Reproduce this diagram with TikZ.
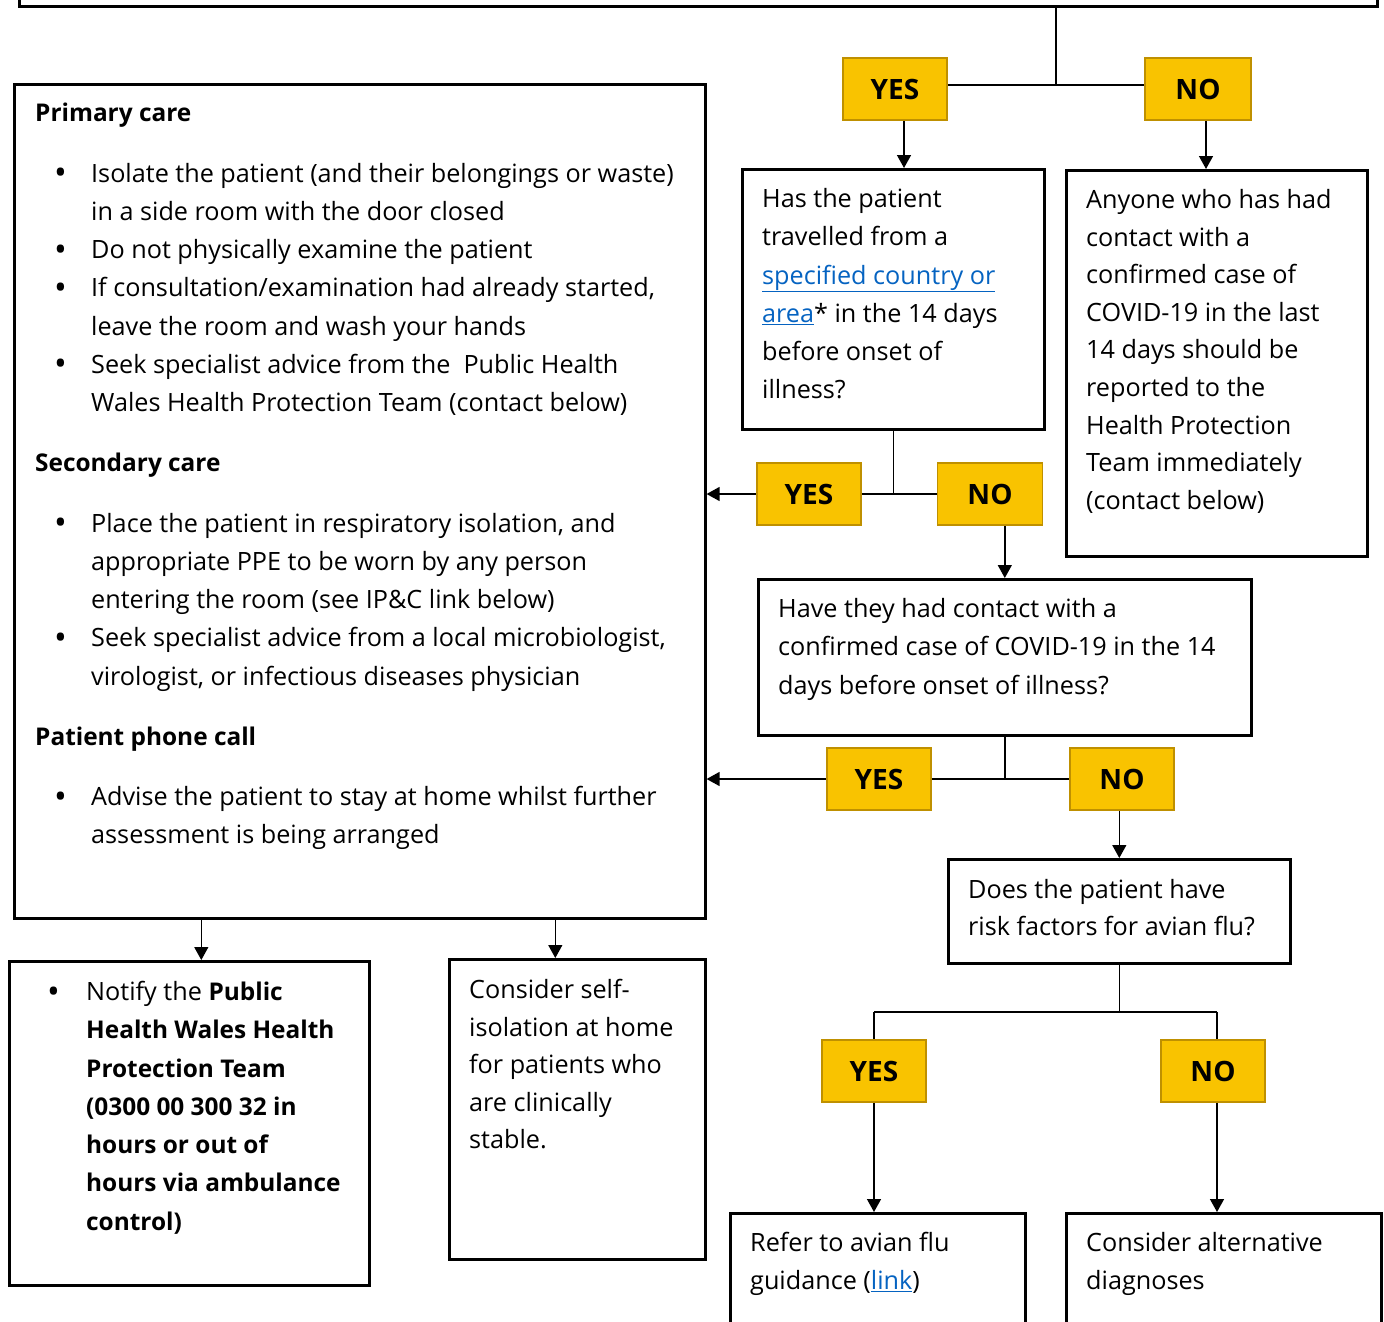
\documentclass[tikz,border=0pt]{standalone}
\usepackage{fontspec}
\setmainfont{Open Sans}
\usetikzlibrary{positioning,arrows.meta}
\definecolor{yesno}{HTML}{F9C300}
\definecolor{yesnoedge}{HTML}{BF9000}
\definecolor{linkblue}{HTML}{0563C1}
\newcommand{\lnk}[1]{\textcolor{linkblue}{\underline{#1}}}
\newcommand{\dotmark}{\raisebox{-2.5pt}{\fontsize{34}{34}\selectfont\textbullet}}
\newcommand{\bul}{\makebox[56pt][l]{\hspace{19pt}\dotmark}}
\newcommand{\ind}{\hspace*{56pt}}
\newcommand{\hd}[1]{{\fontsize{24.4}{38.25}\selectfont\bfseries #1}}

\begin{document}
\begin{tikzpicture}[x=1pt,y=-1pt,
    box/.style={draw,line width=2.6pt,inner sep=0,anchor=north west},
    yn/.style={draw=yesnoedge,fill=yesno,line width=1.6pt,minimum width=104pt,minimum height=62pt,inner sep=0,font=\fontsize{28}{30}\selectfont\bfseries},
    txt/.style={anchor=north west,yshift=18.8pt,align=left,inner sep=0,execute at begin node=\strut,font=\fontsize{25.2}{38.25}\selectfont},
    line/.style={line width=1.4pt},
    arr/.style={line,-{Triangle[length=13pt,width=14pt]}}]
  \clip (0,0) rectangle (1384,1322);
  \useasboundingbox (0,0) rectangle (1384,1322);

  % boxes
  \node[box,anchor=south west,minimum width=1358pt,minimum height=100pt] (top) at (18,8) {};
  \node[box,minimum width=691pt,minimum height=834pt] (main) at (13,83) {};
  \node[box,minimum width=302pt,minimum height=260pt] (q1) at (741,168) {};
  \node[box,minimum width=301pt,minimum height=386pt] (r1) at (1065,169) {};
  \node[box,minimum width=493pt,minimum height=156pt] (q2) at (757,578) {};
  \node[box,minimum width=342pt,minimum height=104pt] (q3) at (947,858) {};
  \node[box,minimum width=295pt,minimum height=160pt] (a1) at (729,1212) {};
  \node[box,minimum width=315pt,minimum height=160pt] (a2) at (1065,1212) {};
  \node[box,minimum width=360pt,minimum height=324pt] (notify) at (8,960) {};
  \node[box,minimum width=256pt,minimum height=300pt] (self) at (448,958) {};

  % yes / no
  \node[yn] (yes1) at (895,89) {YES};
  \node[yn,minimum width=106pt] (no1) at (1198,89) {NO};
  \node[yn] (yes2) at (809,494) {YES};
  \node[yn,minimum width=105pt] (no2) at (990,494) {NO};
  \node[yn] (yes3) at (879,779) {YES};
  \node[yn] (no3) at (1122,779) {NO};
  \node[yn] (yes4) at (874,1071) {YES};
  \node[yn] (no4) at (1213,1071) {NO};

  % texts
  \node[txt] (maintext) at (35,122) {\hd{Primary care}\\[22pt]
    \bul Isolate the patient (and their belongings or waste)\\
    \ind in a side room with the door closed\\
    \bul Do not physically examine the patient\\
    \bul If consultation/examination had already started,\\
    \ind leave the room and wash your hands\\
    \bul Seek specialist advice from the\ \ Public Health\\
    \ind Wales Health Protection Team (contact below)\\[22pt]
    \hd{Secondary care}\\[22pt]
    \bul Place the patient in respiratory isolation, and\\
    \ind appropriate PPE to be worn by any person\\
    \ind entering the room (see IP\&C link below)\\
    \bul Seek specialist advice from a local microbiologist,\\
    \ind virologist, or infectious diseases physician\\[22pt]
    \hd{Patient phone call}\\[22pt]
    \bul Advise the patient to stay at home whilst further\\
    \ind assessment is being arranged};
  \node[txt] (q1text) at (762,207) {Has the patient\\travelled from a\\\lnk{specified country or}\\\lnk{area}* in the 14 days\\before onset of\\illness?};
  \node[txt,font=\fontsize{25.2}{37.6}\selectfont] (r1text) at (1086,208) {Anyone who has had\\contact with a\\confirmed case of\\COVID-19 in the last\\14 days should be\\reported to the\\Health Protection\\Team immediately\\(contact below)};
  \node[txt] (q2text) at (778,617) {Have they had contact with a\\confirmed case of COVID-19 in the 14\\days before onset of illness?};
  \node[txt,font=\fontsize{25.2}{37}\selectfont] (q3text) at (968,898) {Does the patient have\\risk factors for avian flu?};
  \node[txt] (a1text) at (750,1251) {Refer to avian flu\\guidance (\lnk{link})};
  \node[txt] (a2text) at (1086,1251) {Consider alternative\\diagnoses};
  \node[txt] (notifytext) at (47,1000) {\makebox[39pt][l]{\dotmark}Notify the \hd{Public}\\
    \hspace*{39pt}\hd{Health Wales Health}\\
    \hspace*{39pt}\hd{Protection Team}\\
    \hspace*{39pt}\hd{(0300 00 300 32 in}\\
    \hspace*{39pt}\hd{hours or out of}\\
    \hspace*{39pt}\hd{hours via ambulance}\\
    \hspace*{39pt}\hd{control)}};
  \node[txt,font=\fontsize{25.2}{37.5}\selectfont] (selftext) at (469,998) {Consider self-\\isolation at home\\for patients who\\are clinically\\stable.};

  % connectors
  \coordinate (j1) at (1056,85);
  \draw[line] (top.south -| j1) -- (j1);
  \draw[line] (yes1.east |- j1) -- (no1.west |- j1);
  \draw[arr] ([xshift=9pt]yes1.south) -- ([xshift=9pt]yes1.south |- q1.north);
  \draw[arr] ([xshift=8pt]no1.south) -- ([xshift=8pt]no1.south |- r1.north);

  \draw[line] (q1.south) -- (q1.south |- yes2.east);
  \draw[line] (yes2.east) -- (no2.west);
  \draw[arr] (yes2.west) -- (yes2.west -| main.east);
  \draw[arr] (q2.north |- no2.south) -- (q2.north);

  \draw[line] (q2.south) -- (q2.south |- yes3.east);
  \draw[line] (yes3.east) -- (no3.west);
  \draw[arr] (yes3.west) -- (yes3.west -| main.east);
  \draw[arr] (q3.north |- no3.south) -- (q3.north);

  \coordinate (j4) at (1118,1012);
  \draw[line] (q3.south) -- (q3.south |- j4);
  \draw[line] (yes4.north |- j4) -- ([xshift=4pt]no4.north |- j4);
  \draw[line] (yes4.north |- j4) -- (yes4.north);
  \draw[line] ([xshift=4pt]no4.north |- j4) -- ([xshift=4pt]no4.north);
  \draw[arr] (yes4.south) -- (yes4.south |- a1.north);
  \draw[arr] ([xshift=4pt]no4.south) -- ([xshift=4pt]no4.south |- a2.north);

  \draw[arr] ([xshift=12pt]notify.north |- main.south) -- ([xshift=12pt]notify.north);
  \draw[arr] ([xshift=-22pt]self.north |- main.south) -- ([xshift=-22pt]self.north);
\end{tikzpicture}
\end{document}
